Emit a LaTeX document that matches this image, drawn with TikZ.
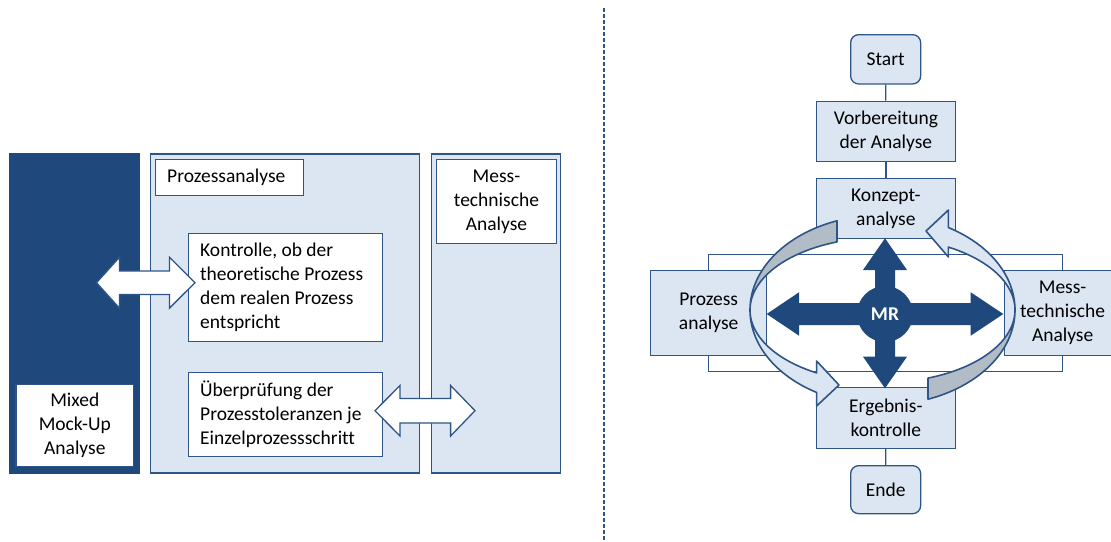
\documentclass[tikz,border=0pt]{standalone}
\usepackage{fontspec}
\setmainfont{Carlito}[Ligatures=NoCommon]
\definecolor{dkb}{RGB}{31,73,125}
\definecolor{bord}{RGB}{47,85,135}
\definecolor{lfill}{RGB}{220,230,242}
\definecolor{gfill}{RGB}{178,188,199}
\begin{document}
\begin{tikzpicture}[x=1pt,y=-1pt,
  every node/.style={font=\fontsize{19.5}{24}\selectfont, text=black, inner sep=0pt},
  darkpanel/.style={draw=dkb, fill=dkb, line width=1.3pt, anchor=north west},
  panel/.style={draw=bord, fill=lfill, line width=1.3pt, anchor=north west},
  wbox/.style={draw=bord, fill=white, line width=1.3pt, anchor=north west, align=center},
  lbox/.style={draw=bord, fill=lfill, line width=1.3pt, anchor=north west, align=center},
  rbox/.style={lbox, rounded corners=8pt},
  txt/.style={anchor=west, align=left},
  conn/.style={draw=bord, line width=1.3pt},
  warrow/.style={draw=bord, fill=white, line width=1.3pt, line join=miter},
  ring/.style={draw=bord, line width=1.6pt, line join=round},
  mrarrow/.style={fill=dkb}
]
\useasboundingbox (0,0) rectangle (1111,541);
\clip (0,0) rectangle (1111,541);

% ---------- left part ----------
\node[darkpanel, minimum width=130.3pt, minimum height=319pt] (dark) at (8.7,153.3) {};
\node[wbox, minimum width=117.7pt, minimum height=82pt] (mixed) at (15.3,384) {Mixed\\Mock-Up\\Analyse};
\node[panel, minimum width=269pt, minimum height=319pt] (ppanel) at (150,153.3) {};
\node[panel, minimum width=129.4pt, minimum height=319pt] (mpanel) at (430.6,153.3) {};
\node[wbox, minimum width=148pt, minimum height=36pt] (pabox) at (155,159) {};
\node[txt] (paT) at ([xshift=12pt]pabox.west) {Prozessanalyse};
\node[wbox, minimum width=194.4pt, minimum height=108.3pt] (kbox) at (187.6,232.7) {};
\node[txt] (kT) at ([xshift=12.4pt]kbox.west) {Kontrolle, ob der\\theoretische Prozess\\dem realen Prozess\\entspricht};
\node[wbox, minimum width=194.4pt, minimum height=84.3pt] (ubox) at (187.6,371.7) {};
\node[txt] (uT) at ([xshift=12.4pt]ubox.west) {Überprüfung der\\Prozesstoleranzen je\\Einzelprozessschritt};
\node[wbox, minimum width=119.6pt, minimum height=84pt] (mbox) at (436,159) {Mess-\\technische\\Analyse};

% double arrows
\draw[warrow] (96.5,282.7) -- (119.5,257.2) -- (119.5,271) -- (169.4,271) -- (169.4,257.2)
  -- (195,282.7) -- (169.4,308.2) -- (169.4,294.4) -- (119.5,294.4) -- (119.5,308.2) -- cycle;
\draw[warrow] (375,410.7) -- (400,385.5) -- (400,398.5) -- (450.6,398.5) -- (450.6,385.5)
  -- (475,410.7) -- (450.6,436) -- (450.6,423) -- (400,423) -- (400,436) -- cycle;

% ---------- separator ----------
\coordinate (dtop) at (604,8);
\coordinate (dbot) at (604,541);
\draw[draw=bord, line width=1.2pt, dash pattern=on 4pt off 2pt] (dtop) -- (dbot);

% ---------- right part ----------
\node[wbox, minimum width=353.7pt, minimum height=117pt] (wide) at (708,254) {};
\node[lbox, minimum width=116pt, minimum height=85pt] (pbox) at (650,270) {Prozess\\analyse};
\node[lbox, minimum width=116pt, minimum height=85pt] (mebox) at (1004,270) {Mess-\\technische\\Analyse};
\node[rbox, minimum width=70pt, minimum height=49.3pt] (start) at (850,34) {Start};
\node[lbox, minimum width=139pt, minimum height=60.3pt] (vorb) at (815.7,100.7) {Vorbereitung\\der Analyse};
\node[lbox, minimum width=139pt, minimum height=60pt] (konz) at (815.7,178) {Konzept-\\analyse};
\node[lbox, minimum width=139pt, minimum height=61pt] (erg) at (815.7,386.7) {Ergebnis-\\kontrolle};
\node[rbox, minimum width=70pt, minimum height=48pt] (ende) at (850,465) {Ende};
\draw[conn] (start) -- (vorb);
\draw[conn] (vorb) -- (konz);
\draw[conn] (erg) -- (ende);

% ring arrows (outer ellipse b=95, inner b=72.5, a=132.5, centre 882.5,310)
\filldraw[ring, fill=gfill]
  plot[domain=249.9:180, samples=60] ({882.5+132.5*cos(\x)},{310+95*sin(\x)})
  -- plot[domain=180:249.9, samples=60] ({882.5+132.5*cos(\x)},{310+72.5*sin(\x)}) -- cycle;
\filldraw[ring, fill=lfill]
  plot[domain=180:119.8, samples=60] ({882.5+132.5*cos(\x)},{310+95*sin(\x)})
  -- (816.6,406) -- (839,385) -- (816.6,361)
  -- plot[domain=119.8:180, samples=60] ({882.5+132.5*cos(\x)},{310+72.5*sin(\x)}) -- cycle;
\filldraw[ring, fill=gfill]
  plot[domain=69.9:0, samples=60] ({882.5+132.5*cos(\x)},{310+95*sin(\x)})
  -- plot[domain=0:69.9, samples=60] ({882.5+132.5*cos(\x)},{310+72.5*sin(\x)}) -- cycle;
\filldraw[ring, fill=lfill]
  plot[domain=360:299.8, samples=60] ({882.5+132.5*cos(\x)},{310+95*sin(\x)})
  -- (948.4,210) -- (926,231) -- (948.4,257)
  -- plot[domain=299.8:360, samples=60] ({882.5+132.5*cos(\x)},{310+72.5*sin(\x)}) -- cycle;

% MR cross
\fill[mrarrow] (766.7,314) -- (799,292.3) -- (799,303) -- (970.7,303) -- (970.7,292.3)
  -- (1003.3,314) -- (970.7,335.7) -- (970.7,325) -- (799,325) -- (799,335.7) -- cycle;
\fill[mrarrow] (885,238.3) -- (907,270) -- (895,270) -- (895,356.7) -- (907,356.7)
  -- (885,388.3) -- (863,356.7) -- (875,356.7) -- (875,270) -- (863,270) -- cycle;
\node[circle, fill=dkb, minimum size=56pt, text=white, font=\fontsize{19.5}{24}\selectfont\bfseries] (mr) at (885,314) {MR};
\end{tikzpicture}
\end{document}
